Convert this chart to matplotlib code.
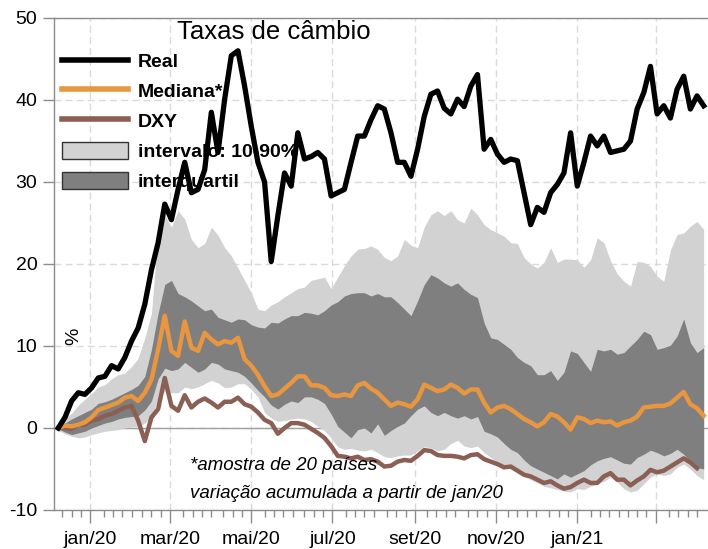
import numpy as np
import pandas as pd
import matplotlib
matplotlib.use('Agg')
import matplotlib.pyplot as plt
import matplotlib.dates as mdates
from matplotlib.lines import Line2D
from matplotlib.patches import Patch

plt.rcParams['font.family'] = ['Liberation Sans', 'DejaVu Sans']
plt.rcParams['axes.unicode_minus'] = False

# observations every 5 days starting 02/jan/2020 (% change since jan/20)
dates = pd.date_range('2020-01-02', periods=98, freq='5D')

real = [0.0, 1.3, 3.3, 4.3, 4.1, 4.9, 6.1, 6.3, 7.6, 7.2,
        8.6, 10.6, 12.2, 15.1, 19.3, 22.6, 27.3, 25.4, 29.1, 32.4,
        28.7, 29.1, 31.5, 38.5, 33.6, 40.1, 45.4, 46.0, 41.7, 36.8,
        32.4, 30.0, 20.3, 25.9, 31.1, 29.5, 36.0, 32.8, 33.1, 33.6,
        32.8, 28.3, 28.7, 29.1, 32.4, 35.6, 35.6, 37.6, 39.3, 38.9,
        36.0, 32.4, 32.4, 30.7, 34.0, 38.0, 40.7, 41.1, 39.0, 38.3,
        40.1, 39.2, 41.7, 43.1, 34.0, 35.2, 33.4, 32.4, 32.8, 32.6,
        28.7, 24.8, 26.9, 26.3, 28.7, 29.7, 31.1, 36.0, 29.5, 32.4,
        35.6, 34.4, 35.6, 33.6, 33.8, 34.0, 35.0, 38.9, 40.9, 44.1,
        38.3, 39.3, 37.8, 41.3, 42.9, 38.9, 40.5, 39.3]

mediana = [0.0, 0.3, 0.2, 0.4, 0.7, 1.3, 2.2, 2.5, 2.8, 3.1,
           3.7, 3.9, 3.3, 4.3, 5.9, 9.6, 13.7, 9.4, 8.8, 13.0,
           9.8, 9.4, 11.6, 10.8, 10.2, 10.6, 10.4, 11.0, 8.4, 7.6,
           6.5, 5.1, 3.9, 4.1, 4.8, 5.5, 6.3, 6.3, 5.2, 5.2,
           4.9, 4.0, 3.9, 4.1, 3.9, 5.2, 5.5, 4.8, 4.3, 3.5,
           2.7, 3.1, 2.9, 2.6, 3.5, 5.3, 4.9, 4.5, 4.7, 5.3,
           4.9, 4.2, 4.7, 4.7, 3.1, 1.9, 2.5, 2.7, 2.3, 1.7,
           1.1, 0.7, 0.2, 0.7, 1.7, 1.4, 0.7, -0.2, 1.3, 1.1,
           0.6, 0.9, 0.7, 0.8, 0.3, 0.7, 0.9, 1.4, 2.5, 2.6,
           2.7, 2.7, 3.0, 3.7, 4.4, 2.9, 2.4, 1.5]

# DXY stops one observation earlier
dxy = [0.0, 0.0, -0.1, 0.4, 0.4, 0.9, 1.1, 1.5, 1.7, 2.1,
       2.5, 2.7, 0.9, -1.6, 1.3, 2.3, 6.1, 2.7, 2.1, 4.0,
       2.5, 3.2, 3.6, 3.1, 2.5, 3.2, 3.2, 3.7, 2.9, 2.6,
       1.9, 1.0, 0.6, -0.7, 0.0, 0.6, 0.6, 0.4, -0.1, -0.6,
       -1.2, -2.2, -3.4, -3.5, -3.7, -3.5, -3.9, -3.8, -4.1, -4.7,
       -4.6, -4.1, -3.9, -4.0, -3.4, -2.7, -2.8, -3.3, -3.4, -3.4,
       -3.5, -3.7, -3.3, -3.2, -3.8, -4.1, -4.4, -4.8, -4.7, -5.2,
       -5.7, -5.9, -6.3, -6.7, -6.5, -7.0, -7.4, -7.2, -6.7, -6.3,
       -6.7, -6.7, -5.9, -5.5, -6.3, -6.3, -7.0, -6.4, -5.9, -5.1,
       -5.4, -5.2, -4.7, -4.2, -3.7, -4.2, -4.9]

p90 = [0.3, 1.2, 1.8, 2.8, 3.5, 4.2, 5.0, 5.3, 6.0, 6.5,
       6.7, 7.5, 8.5, 11.0, 14.0, 24.0, 26.0, 24.5, 26.5, 25.5,
       23.0, 22.0, 22.5, 24.5, 23.5, 22.0, 21.0, 19.5, 18.0, 16.5,
       14.5, 14.3, 15.0, 15.4, 16.0, 16.5, 17.0, 17.2, 18.0, 18.2,
       18.4, 17.0, 18.4, 19.8, 21.0, 21.8, 21.9, 22.2, 21.8, 20.8,
       20.4, 21.0, 23.0, 22.3, 22.0, 24.5, 26.0, 26.5, 25.9, 26.5,
       25.4, 25.0, 26.8, 26.0, 24.8, 24.2, 23.8, 23.4, 22.6, 22.5,
       20.8, 20.0, 19.5, 20.2, 22.0, 20.2, 20.6, 20.6, 20.5, 19.6,
       20.5, 23.2, 22.6, 20.4, 18.8, 17.9, 17.3, 20.3, 20.2, 19.7,
       18.5, 17.9, 21.7, 23.6, 23.8, 24.6, 25.2, 24.2]

p75 = [0.2, 0.6, 1.1, 1.5, 1.9, 2.3, 3.0, 3.2, 3.5, 3.9,
       4.3, 4.7, 5.2, 6.3, 9.6, 14.0, 17.5, 18.0, 16.4, 16.0,
       15.5, 14.9, 14.3, 14.5, 13.5, 13.2, 12.9, 13.3, 13.2, 12.6,
       12.3, 12.2, 12.9, 12.8, 13.3, 13.7, 13.7, 14.1, 14.0, 13.8,
       14.3, 15.0, 15.4, 16.1, 16.4, 16.5, 16.5, 16.1, 16.4, 16.0,
       16.0, 15.3, 14.5, 13.7, 15.5, 17.5, 18.7, 18.3, 17.7, 17.3,
       17.7, 16.9, 16.3, 15.9, 12.8, 11.0, 10.8, 10.2, 9.6, 8.6,
       8.0, 7.6, 6.5, 6.5, 7.0, 5.8, 6.8, 9.4, 9.1, 8.0,
       6.9, 9.6, 9.4, 9.6, 9.0, 9.2, 10.0, 10.8, 11.8, 11.4,
       9.6, 9.8, 10.1, 11.2, 13.3, 10.4, 9.2, 9.8]

p25 = [-0.1, -0.5, -0.8, -0.6, -0.4, 0.0, 0.3, 0.6, 0.8, 1.1,
       1.3, 1.4, 1.5, 2.2, 3.3, 6.0, 7.3, 7.0, 7.2, 8.0,
       7.4, 6.8, 7.2, 8.0, 7.8, 7.2, 7.0, 6.8, 6.3, 5.5,
       4.6, 3.8, 2.8, 2.3, 2.9, 3.3, 3.1, 3.8, 3.8, 3.5,
       3.0, 1.7, 0.2, -0.5, -1.2, -0.2, 0.0, -0.6, 0.5, -0.9,
       -0.3, 0.2, 0.6, 1.5, 2.3, 2.7, 1.9, 1.5, 1.9, 1.5,
       1.2, 1.5, 1.1, 1.4, -0.4, -0.7, -1.1, -1.9, -2.6, -3.0,
       -3.9, -4.6, -5.0, -5.4, -5.8, -6.2, -5.6, -6.0, -5.6, -5.2,
       -4.5, -4.0, -3.7, -3.5, -3.9, -4.3, -4.4, -3.6, -3.2, -2.7,
       -3.0, -3.4, -3.1, -2.6, -3.2, -4.1, -4.8, -5.0]

p10 = [-0.3, -0.7, -1.0, -1.2, -1.1, -0.8, -0.6, -0.4, -0.3, -0.2,
       0.0, 0.1, 0.2, 0.6, 1.4, 3.5, 4.5, 4.3, 4.3, 5.0,
       4.8, 5.0, 5.4, 5.8, 5.5, 4.9, 5.0, 5.4, 5.4, 4.7,
       3.8, 1.9, 1.2, 0.8, 0.9, 1.1, 1.2, 1.1, 0.8, 0.2,
       -0.3, -1.2, -2.3, -2.6, -2.5, -2.7, -2.8, -2.6, -3.0, -3.5,
       -3.6, -3.4, -3.3, -3.3, -2.8, -2.3, -2.4, -2.8, -2.6, -1.9,
       -1.5, -2.2, -2.4, -2.2, -3.0, -3.6, -4.2, -4.6, -5.0, -5.4,
       -5.9, -6.3, -6.7, -7.1, -7.3, -7.5, -7.7, -7.8, -7.4, -7.5,
       -7.1, -6.8, -6.5, -6.0, -6.6, -7.4, -7.8, -7.6, -6.8, -6.0,
       -5.6, -5.8, -5.6, -4.8, -4.4, -5.0, -5.8, -6.3]

tick_dates = ['2020-01-26', '2020-03-26', '2020-05-26', '2020-07-26',
              '2020-09-26', '2020-11-26', '2021-01-26', '2021-03-26']
tick_labels = ['jan/20', 'mar/20', 'mai/20', 'jul/20',
               'set/20', 'nov/20', 'jan/21', '']

c_real = 'black'
c_med = '#e8963f'
c_dxy = '#8c5f55'
c_light = '#d2d2d2'
c_dark = '#7f7f7f'
c_axis = '#8c8c8c'

fig = plt.figure(figsize=(7.08, 5.49), dpi=100)
ax = fig.add_axes([54/708, 39/549, 654/708, 492/549])

ax.fill_between(dates, p10, p90, color=c_light, lw=0, zorder=1)
ax.fill_between(dates, p25, p75, color=c_dark, lw=0, zorder=1.5)
ax.axhline(0, color='#a0a0a0', lw=1.0, zorder=0.8)

ax.plot(dates[:len(dxy)], dxy, color=c_dxy, lw=3.2, zorder=4, solid_joinstyle='round')
ax.plot(dates, mediana, color=c_med, lw=3.2, zorder=4.5, solid_joinstyle='round')
ax.plot(dates, real, color=c_real, lw=3.8, zorder=5, solid_joinstyle='round')

# axis limits and ticks
left = pd.Timestamp('2019-12-29 18:00')
ax.set_xlim(left, left + pd.Timedelta(days=491.5))
ax.set_ylim(-10, 50)
ax.set_yticks([-10, 0, 10, 20, 30, 40, 50])
ax.set_xticks(pd.to_datetime(tick_dates))
ax.set_xticklabels(tick_labels)
ax.xaxis.set_minor_locator(mdates.DayLocator(bymonthday=[5, 12, 19, 26]))

ax.tick_params(axis='y', which='major', length=8, width=1, color=c_axis,
               labelsize=14, pad=4)
ax.tick_params(axis='x', which='major', length=9, width=1, color=c_axis,
               labelsize=14, pad=6)
ax.tick_params(axis='x', which='minor', length=5, width=1, color=c_axis)

ax.set_axisbelow(True)
ax.grid(True, which='major', color='#dadada', ls=(0, (5, 3)), lw=1.0)

for s in ['left', 'bottom', 'top']:
    ax.spines[s].set_color(c_axis)
    ax.spines[s].set_linewidth(1.0)
ax.spines['right'].set_visible(False)

# legend (sits under the lines)
handles = [Line2D([], [], color=c_real, lw=4),
           Line2D([], [], color=c_med, lw=4),
           Line2D([], [], color=c_dxy, lw=4),
           Patch(facecolor=c_light, edgecolor='#333333', lw=1),
           Patch(facecolor=c_dark, edgecolor='#333333', lw=1)]
labels = ['Real', 'Mediana*', 'DXY', 'intervalo: 10-90%', 'interquartil']
leg = ax.legend(handles, labels, loc='upper left',
                bbox_to_anchor=(62/708, 1 - 52/549), bbox_transform=fig.transFigure,
                frameon=False, borderpad=0, borderaxespad=0,
                handlelength=3.4, handleheight=0.95, handletextpad=0.5,
                labelspacing=0.56, prop={'weight': 'bold', 'size': 14})
leg.set_zorder(3)

fig.text(177/708, 1 - 39/549, 'Taxas de câmbio', fontsize=18.5, va='baseline')
fig.text(74/708, 1 - 336/549, '%', fontsize=14, rotation=90, ha='center', va='center')
fig.text(190/708, 1 - 465/549, '*amostra de 20 países', fontsize=13.5,
         style='italic', va='center')
fig.text(190/708, 1 - 494/549, 'variação acumulada a partir de jan/20', fontsize=13.5,
         style='italic', va='center')

fig.savefig('out.png', dpi=100)
